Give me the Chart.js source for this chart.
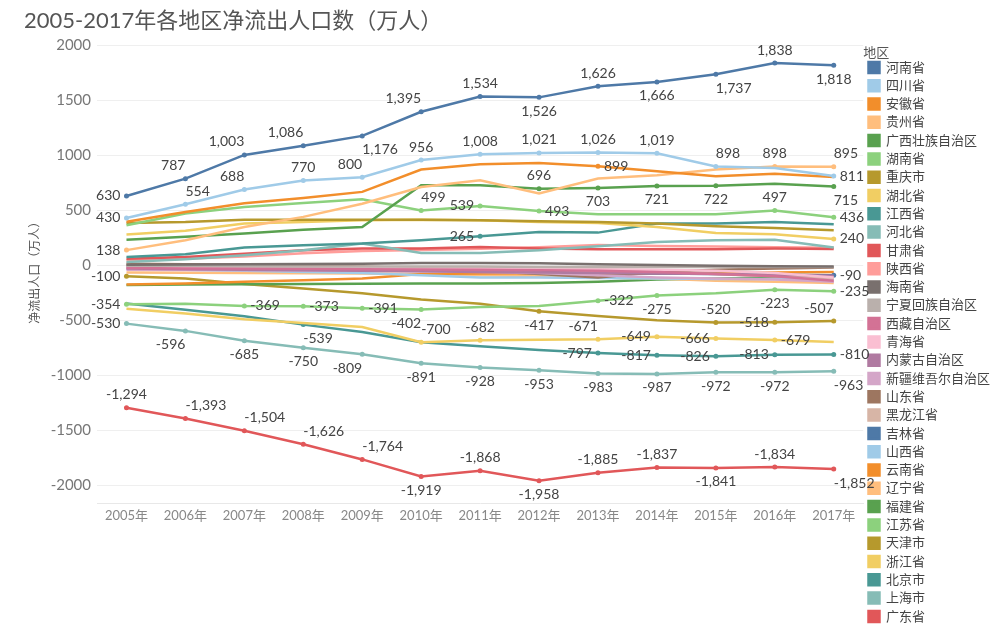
<!DOCTYPE html>
<html>
<head>
<meta charset="utf-8">
<script src="https://cdn.jsdelivr.net/npm/chart.js@4"></script>
<style>
  html, body { margin: 0; padding: 0; background: #fff; }
  #wrap { width: 1000px; height: 637px; }
</style>
</head>
<body>
<div id="wrap"><canvas id="flowChart"></canvas></div>
<script>
var years = ['2005年','2006年','2007年','2008年','2009年','2010年','2011年','2012年','2013年','2014年','2015年','2016年','2017年'];
var yTicks = [-2000, -1500, -1000, -500, 0, 500, 1000, 1500, 2000];

// 净流出人口（万人），
var henan        = [630, 787, 1003, 1086, 1176, 1395, 1534, 1526, 1626, 1666, 1737, 1838, 1818];
var sichuan      = [430, 554, 688, 770, 800, 956, 1008, 1021, 1026, 1019, 898, 885, 811];
var anhui        = [395, 485, 563, 612, 667, 870, 918, 930, 899, 855, 809, 833, 803];
var guizhou      = [138, 227, 348, 440, 560, 712, 773, 652, 788, 818, 870, 898, 895];
var guangxi      = [233, 260, 288, 324, 348, 727, 727, 696, 703, 721, 722, 742, 715];
var hunan        = [364, 470, 530, 567, 600, 499, 539, 493, 464, 465, 465, 497, 436];
var chongqing    = [385, 394, 415, 415, 415, 415, 409, 400, 394, 379, 355, 339, 318];
var hubei        = [279, 315, 379, 394, 409, 415, 409, 394, 385, 348, 294, 282, 240];
var jiangxi      = [75, 100, 161, 182, 197, 227, 265, 303, 297, 379, 379, 394, 373];
var hebei        = [30, 55, 91, 136, 197, 112, 112, 136, 173, 212, 227, 233, 161];
var gansu        = [60, 75, 106, 136, 152, 152, 167, 152, 145, 145, 145, 152, 148];
var shaanxi      = [45, 60, 80, 110, 130, 140, 150, 165, 185, 175, 170, 165, 160];
var hainan       = [5, 8, 10, 12, 15, 20, 22, 18, 10, 2, -5, -8, -10];
var ningxia      = [-5, -5, -8, -10, -10, -12, -12, -15, -15, -15, -15, -15, -15];
var xizang       = [-25, -28, -30, -32, -35, -38, -40, -45, -50, -60, -80, -100, -140];
var qinghai      = [-15, -18, -20, -22, -25, -28, -30, -32, -35, -40, -50, -70, -110];
var neimenggu    = [-30, -35, -40, -45, -50, -55, -60, -65, -70, -75, -80, -85, -95];
var xinjiang     = [-40, -42, -45, -48, -50, -55, -60, -70, -90, -110, -120, -130, -150];
var shandong     = [15, 10, 5, 0, -10, -30, -50, -80, -110, -60, -40, -30, -20];
var heilongjiang = [-5, -8, -10, -12, -15, -20, -25, -30, -40, -60, -80, -100, -120];
var jilin        = [-10, -15, -20, -25, -30, -40, -50, -60, -70, -75, -80, -85, -90];
var shanxi       = [-30, -40, -50, -60, -70, -90, -110, -110, -115, -120, -125, -125, -130];
var yunnan       = [-175, -165, -150, -135, -120, -80, -75, -75, -80, -75, -70, -65, -60];
var liaoning     = [-65, -68, -70, -72, -75, -80, -90, -100, -110, -120, -140, -150, -160];
var fujian       = [-178, -175, -172, -170, -168, -165, -165, -160, -150, -130, -120, -110, -100];
var jiangsu      = [-354, -350, -369, -373, -391, -402, -380, -370, -322, -275, -255, -223, -235];
var tianjin      = [-100, -120, -170, -210, -255, -310, -350, -417, -460, -500, -520, -518, -507];
var zhejiang     = [-394, -439, -491, -524, -561, -700, -682, -676, -671, -649, -666, -679, -697];
var beijing      = [-348, -403, -464, -539, -606, -700, -736, -770, -797, -817, -826, -813, -810];
var shanghai     = [-530, -596, -685, -750, -809, -891, -928, -953, -983, -987, -972, -972, -963];
var guangdong    = [-1294, -1393, -1504, -1626, -1764, -1919, -1868, -1958, -1885, -1837, -1841, -1834, -1852];

var regions = ['河南省','四川省','安徽省','贵州省','广西壮族自治区','湖南省','重庆市','湖北省','江西省','河北省',
  '甘肃省','陕西省','海南省','宁夏回族自治区','西藏自治区','青海省','内蒙古自治区','新疆维吾尔自治区','山东省','黑龙江省',
  '吉林省','山西省','云南省','辽宁省','福建省','江苏省','天津市','浙江省','北京市','上海市','广东省'];
var series = [henan, sichuan, anhui, guizhou, guangxi, hunan, chongqing, hubei, jiangxi, hebei,
  gansu, shaanxi, hainan, ningxia, xizang, qinghai, neimenggu, xinjiang, shandong, heilongjiang,
  jilin, shanxi, yunnan, liaoning, fujian, jiangsu, tianjin, zhejiang, beijing, shanghai, guangdong];

var palette = ['#4E79A7','#A0CBE8','#F28E2B','#FFBE7D','#59A14F','#8CD17D','#B6992D','#F1CE63','#499894','#86BCB6',
  '#E15759','#FF9D9A','#79706E','#BAB0AC','#D37295','#FABFD2','#B07AA1','#D4A6C8','#9D7660','#D7B5A6'];

// where each shown value label sits: a=above b=below l=left r=right (al = above, ending at the point, etc.)
var labelPos = {
  '河南省': ['l','al','al','al','br','al','a','b','a','b','br','a','b'],
  '四川省': ['l','ar','al','a','al','a','a','a','a','a','ar','','r'],
  '安徽省': ['','','','','','','','','r','','','',''],
  '贵州省': ['l','','','','','','','','','','','a','ar'],
  '广西壮族自治区': ['','','','','','','','a','b','b','b','','br'],
  '湖南省': ['','','','','','ar','l','r','','','','a','r'],
  '江西省': ['','','','','','','l','','','','','',''],
  '湖北省': ['','','','','','','','','','','','','r'],
  '吉林省': ['','','','','','','','','','','','','r'],
  '江苏省': ['l','','r','r','r','bl','','','r','b','','b','r'],
  '天津市': ['l','','','','','','','b','','','a','l','al'],
  '浙江省': ['','','','','','ar','a','','al','l','l','r',''],
  '北京市': ['','','','br','','','','','l','l','l','l','r'],
  '上海市': ['l','bl','b','b','bl','b','b','b','b','b','b','b','br'],
  '广东省': ['a','ar','ar','ar','ar','b','a','b','a','a','b','a','br']
};

var FONT = 'Lato, "Noto Sans CJK SC", sans-serif';

var datasets = regions.map(function (name, i) {
  var c = palette[i % palette.length];
  var pos = labelPos[name] || [];
  return {
    label: name,
    data: series[i],
    borderColor: c,
    backgroundColor: c,
    borderWidth: 2.5,
    tension: 0,
    fill: false,
    pointRadius: function (ctx) { return pos[ctx.dataIndex] ? 2.5 : 0; },
    pointHoverRadius: 3,
    pointBorderWidth: 0
  };
});

var valueLabels = {
  id: 'valueLabels',
  afterDatasetsDraw: function (chart) {
    var ctx = chart.ctx;
    ctx.save();
    ctx.font = '14px ' + FONT;
    ctx.fillStyle = '#444';
    ctx.textBaseline = 'middle';
    chart.data.datasets.forEach(function (ds, i) {
      var pos = labelPos[ds.label];
      if (!pos) return;
      chart.getDatasetMeta(i).data.forEach(function (pt, j) {
        var p = pos[j];
        if (!p) return;
        var x = pt.x, y = pt.y, align = 'center';
        var v = p.charAt(0), h = p.length === 2 ? p.charAt(1) : (p === 'l' || p === 'r' ? p : '');
        if (v === 'a') y -= 13;
        if (v === 'b') y += 14;
        if (p === 'l') { align = 'right'; x -= 6; }
        else if (p === 'r') { align = 'left'; x += 6; }
        else if (h === 'l') { align = 'right'; }
        else if (h === 'r') { align = 'left'; }
        ctx.textAlign = align;
        ctx.fillText(ds.data[j].toLocaleString('en-US'), x, y);
      });
    });
    ctx.restore();
  }
};

var ctx = document.getElementById('flowChart');

var flowChart = new Chart(ctx, {
  type: 'line',
  data: { labels: years, datasets: datasets },
  options: {
    responsive: true,
    maintainAspectRatio: false,
    animation: false,
    layout: { padding: { left: 24, right: 0, top: 0, bottom: 0 } },
    plugins: {
      title: {
        display: true,
        text: '2005-2017年各地区净流出人口数（万人）',
        align: 'start',
        color: '#555',
        font: { family: FONT, size: 22, weight: 'normal' },
        padding: { top: 8, bottom: 2 }
      },
      legend: {
        position: 'right',
        align: 'start',
        title: {
          display: true,
          text: '地区',
          position: 'start',
          color: '#555',
          font: { family: FONT, size: 13 },
          padding: { top: 46, bottom: -6 }
        },
        labels: {
          boxWidth: 11,
          boxHeight: 11,
          padding: 5.3,
          color: '#444',
          font: { family: FONT, size: 13 }
        }
      },
      tooltip: { enabled: false }
    },
    scales: {
      x: {
        offset: true,
        grid: { display: false, tickLength: 0 },
        border: { color: '#e8e8e8' },
        ticks: { color: '#888', font: { family: FONT, size: 13 }, padding: 5 },
        afterFit: function (scale) { scale.height = 134; }
      },
      y: {
        min: -2160,
        max: 2080,
        grid: { color: '#efefef', drawTicks: false },
        border: { display: false },
        afterBuildTicks: function (scale) {
          scale.ticks = yTicks.map(function (v) { return { value: v }; });
        },
        ticks: {
          color: '#777',
          padding: 6,
          font: { family: FONT, size: 15 },
          callback: function (value) { return String(value); }
        },
        title: { display: true, text: '净流出人口（万人）', color: '#555', font: { family: FONT, size: 12 }, padding: 4 },
        afterFit: function (scale) { scale.width = 73; }
      }
    }
  },
  plugins: [valueLabels]
});
</script>
</body>
</html>
